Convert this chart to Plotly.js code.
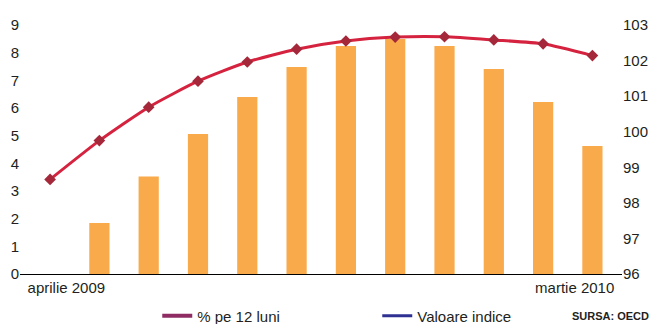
<!DOCTYPE html>
<html>
<head>
<meta charset="utf-8">
<script src="https://cdn.plot.ly/plotly-3.0.1.min.js"></script>
<style>html,body{margin:0;padding:0;background:#fff}#chart{width:655px;height:324px}</style>
</head>
<body>
<div id="chart"></div>
<script>
const categories = ["aprilie 2009","mai 2009","iunie 2009","iulie 2009","august 2009","septembrie 2009","octombrie 2009","noiembrie 2009","decembrie 2009","ianuarie 2010","februarie 2010","martie 2010"];
const pctValues = [0, 1.84, 3.52, 5.06, 6.40, 7.48, 8.24, 8.49, 8.24, 7.41, 6.22, 4.63];
const indexValues = [98.66, 99.75, 100.69, 101.42, 101.96, 102.32, 102.55, 102.66, 102.67, 102.58, 102.47, 102.14];
const tickLabels = ["aprilie 2009", "martie 2010"];
const legendNames = ["% pe 12 luni", "Valoare indice"];

const xIdx = categories.map((_, i) => i);
const tickPos = [0.33, 10.64];
const FONT = "'Liberation Sans', Arial, sans-serif";
const TXT = "#231f20";

const traces = [
  {
    type: "bar", x: xIdx, y: pctValues, yaxis: "y",
    marker: {color: "#f9aa4b"}, width: 0.41, showlegend: false, hoverinfo: "skip"
  },
  {
    type: "scatter", mode: "lines+markers", x: xIdx, y: indexValues, yaxis: "y2",
    line: {color: "#d5233f", width: 3, shape: "spline", smoothing: 0.6},
    marker: {symbol: "diamond", size: 9, color: "#a4283a"},
    showlegend: false, hoverinfo: "skip"
  },
  {
    type: "scatter", mode: "lines", x: [null], y: [null], name: legendNames[0],
    line: {color: "#8e2c63", width: 4}, showlegend: true
  },
  {
    type: "scatter", mode: "lines", x: [null], y: [null], name: legendNames[1],
    line: {color: "#2e3192", width: 3}, showlegend: true
  }
];

const layout = {
  width: 655, height: 324,
  margin: {l: 20, r: 33, t: 25, b: 50},
  paper_bgcolor: "#ffffff", plot_bgcolor: "#ffffff",
  font: {family: FONT, size: 15, color: TXT},
  showlegend: true,
  legend: {
    orientation: "h", x: 0.228, xanchor: "left", yref: "container", y: 0.025, yanchor: "middle",
    font: {family: FONT, size: 15, color: TXT}, entrywidth: 175, bgcolor: "rgba(0,0,0,0)"
  },
  xaxis: {
    range: [-0.61, 11.6], showgrid: false, zeroline: false,
    showline: true, linecolor: "#000000", linewidth: 1,
    tickmode: "array", tickvals: tickPos, ticktext: tickLabels, ticks: "",
    tickfont: {family: FONT, size: 15, color: TXT}
  },
  yaxis: {
    range: [0, 9], dtick: 1, showgrid: false, zeroline: false, showline: false, ticks: "",
    tickfont: {family: FONT, size: 15, color: TXT}
  },
  yaxis2: {
    range: [96, 103], dtick: 1, overlaying: "y", side: "right", showgrid: false, zeroline: false,
    showline: false, ticks: "", tickfont: {family: FONT, size: 15, color: TXT}
  },
  annotations: [
    {text: "<b>SURSA: OECD</b>", xref: "paper", yref: "paper", x: 1.048, y: -0.169,
     xanchor: "right", yanchor: "middle", showarrow: false,
     font: {family: FONT, size: 11, color: TXT}}
  ]
};

Plotly.newPlot("chart", traces, layout, {displayModeBar: false, staticPlot: true});
</script>
</body>
</html>
